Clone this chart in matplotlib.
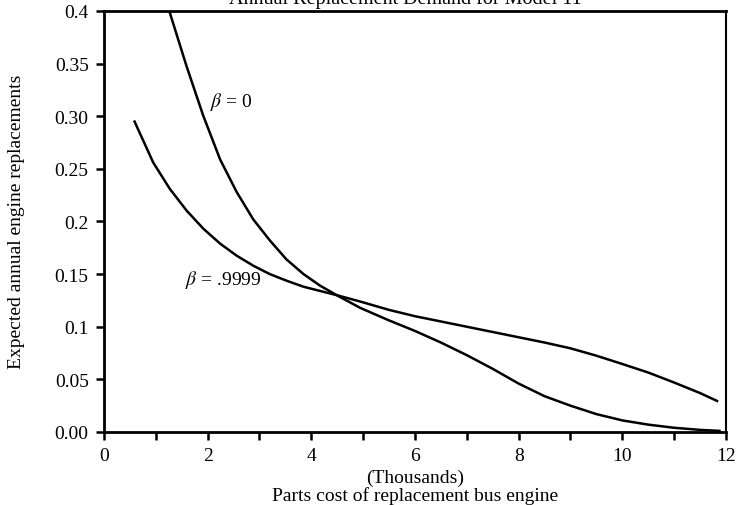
import matplotlib
matplotlib.use("Agg")
import matplotlib.pyplot as plt

plt.rcParams['font.family'] = ['Liberation Serif', 'DejaVu Serif']
plt.rcParams['mathtext.fontset'] = 'stix'

# beta = 0 curve
cost_b0 = [1.26, 1.59, 1.915, 2.24, 2.56, 2.88, 3.20, 3.52, 3.85, 4.17, 4.49, 4.94,
           5.5, 6.0, 6.5, 7.0, 7.5, 8.0, 8.5, 9.0, 9.5, 10.0, 10.5, 11.0,
           11.5, 11.9]
repl_b0 = [0.400, 0.348, 0.3005, 0.259, 0.228, 0.202, 0.182, 0.164, 0.150, 0.139,
           0.130, 0.118, 0.106, 0.096, 0.085, 0.073, 0.060, 0.046,
           0.034, 0.025, 0.017, 0.011, 0.007, 0.004, 0.002, 0.001]

# beta = .9999 curve
cost_b1 = [0.58, 0.95, 1.27, 1.60, 1.92, 2.24, 2.56, 2.88, 3.20, 3.52, 3.85, 4.17,
           4.49, 4.94, 5.5, 6.0, 6.5, 7.0, 7.5, 8.0, 8.5, 9.0, 9.5, 10.0, 10.5,
           11.0, 11.5, 11.85]
repl_b1 = [0.296, 0.256, 0.231, 0.210, 0.193, 0.179, 0.1675, 0.158, 0.150, 0.1438,
           0.138, 0.134, 0.130, 0.124, 0.116, 0.110, 0.105, 0.100, 0.095, 0.090,
           0.085, 0.0795, 0.0725, 0.0646, 0.0565, 0.047, 0.037, 0.029]

yticks = [0, 0.05, 0.1, 0.15, 0.2, 0.25, 0.30, 0.35, 0.4]
ylabels = ['0.00', '0.05', '0.1', '0.15', '0.2', '0.25', '0.30', '0.35', '0.4']
xticks = [0, 2, 4, 6, 8, 10, 12]

fig = plt.figure(figsize=(7.37, 5.06), dpi=100)
ax = fig.add_axes([0.1411, 0.1443, 0.8439, 0.832])

ax.plot(cost_b0, repl_b0, color='black', lw=1.8, solid_capstyle='butt')
ax.plot(cost_b1, repl_b1, color='black', lw=1.8, solid_capstyle='butt')

ax.set_xlim(0, 12)
ax.set_ylim(0, 0.4)
ax.set_xticks(xticks)
ax.set_xticks(range(13), minor=True)
ax.set_yticks(yticks)
ax.set_yticklabels(ylabels)
ax.tick_params(axis='both', which='both', direction='out', length=6, width=1.8,
               labelsize=14, top=False, right=False, pad=5)

for side in ['left', 'bottom', 'top']:
    ax.spines[side].set_linewidth(2.0)
ax.spines['right'].set_linewidth(1.5)

ax.text(2.04, 0.3145, r'$\beta$ = 0', fontsize=14, ha='left', va='center')
ax.text(1.56, 0.1454, r'$\beta$ = .9999', fontsize=14, ha='left', va='center')

fig.text(0.0225, 0.561, 'Expected annual engine replacements', fontsize=14,
         rotation=90, ha='center', va='center')
fig.text(0.563, 0.0553, '(Thousands)', fontsize=14, ha='center', va='center')
fig.text(0.563, 0.0198, 'Parts cost of replacement bus engine', fontsize=14,
         ha='center', va='center')
fig.text(0.55, 0.993, 'Annual Replacement Demand for Model 11', fontsize=14.5,
         ha='center', va='baseline')

fig.savefig('out.png', dpi=100)
